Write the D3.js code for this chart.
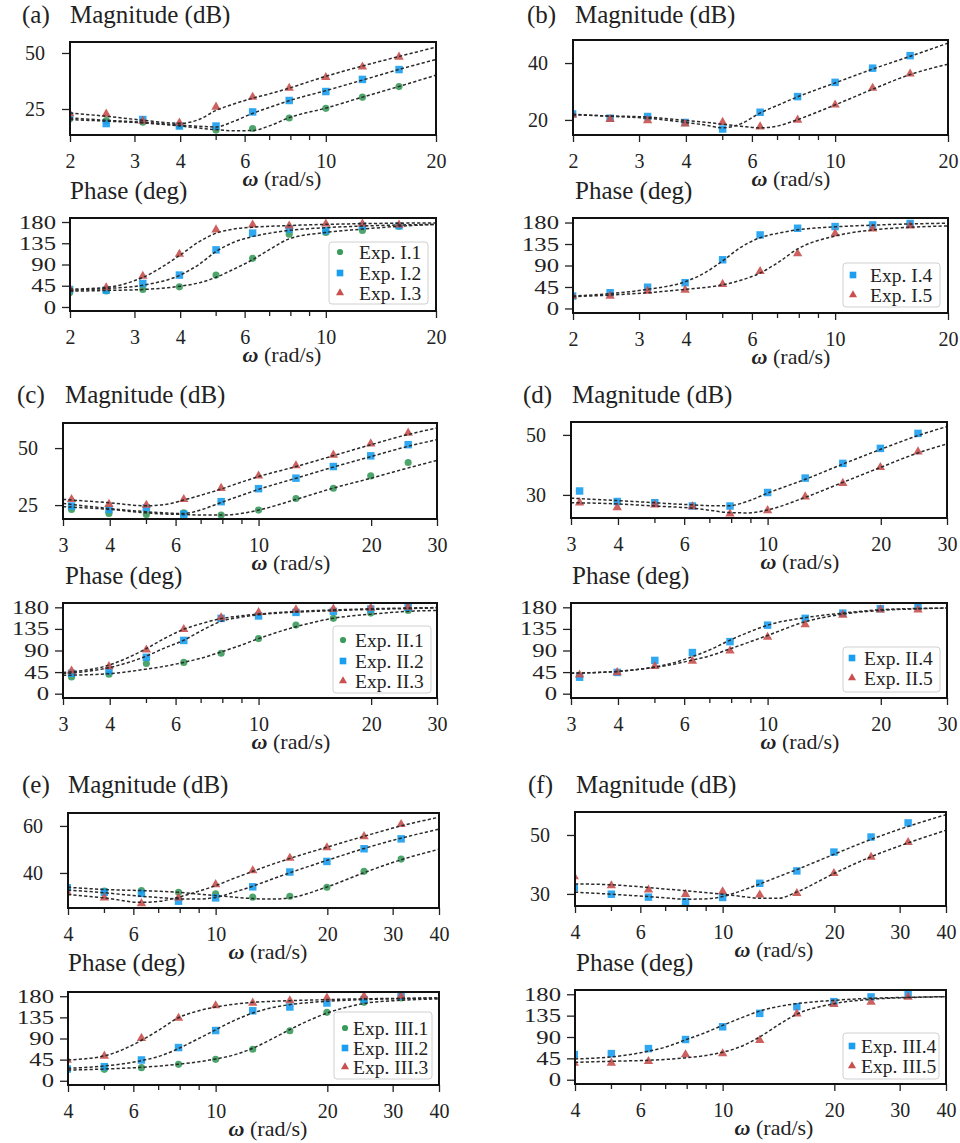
<!DOCTYPE html>
<html><head><meta charset="utf-8">
<script src="https://cdn.jsdelivr.net/npm/d3@7"></script>
<style>
body{margin:0;background:#fff}
svg{display:block}
</style>
</head><body>
<svg id="c" width="960" height="1143"></svg>
<script>
// ---------------- DATA ----------------
const freqAB = [1.995, 2.512, 3.162, 3.981, 5.012, 6.310, 7.943, 10.0, 12.59, 15.85];
const freqCD = [3.162, 3.981, 5.012, 6.310, 7.943, 10.0, 12.59, 15.85, 19.95, 25.12];
const freqEF = [3.981, 5.012, 6.310, 7.943, 10.0, 12.59, 15.85, 19.95, 25.12, 31.62];
const fitFreqAB = [2, 2.5, 3.16, 4, 4.5, 5, 5.6, 6.3, 7.1, 7.9, 10, 12.6, 15.8, 20];
const fitFreqCD = [3, 4, 5, 5.6, 6.3, 7.1, 7.9, 8.9, 10, 12.6, 15.8, 20, 25, 30];
const fitFreqEF = [4, 5, 6.3, 7.1, 7.9, 8.9, 10, 11.2, 12.6, 14.1, 15.8, 20, 25, 31.6, 40];

const xTicksAB = [2, 3, 4, 6, 10, 20];
const xTicksCD = [3, 4, 6, 10, 20, 30];
const xTicksEF = [4, 6, 10, 20, 30, 40];
const xMinorTicks = [5, 7, 8, 9];
const phaseTicks = [0, 45, 90, 135, 180];
const magTicksA = [25, 50], magTicksB = [20, 40], magTicksC = [25, 50];
const magTicksD = [30, 50], magTicksE = [40, 60], magTicksF = [30, 50];

const panelLetters = ["(a)", "(b)", "(c)", "(d)", "(e)", "(f)"];
const legendNames = {
  a: ["Exp. I.1", "Exp. I.2", "Exp. I.3"],
  b: ["Exp. I.4", "Exp. I.5"],
  c: ["Exp. II.1", "Exp. II.2", "Exp. II.3"],
  d: ["Exp. II.4", "Exp. II.5"],
  e: ["Exp. III.1", "Exp. III.2", "Exp. III.3"],
  f: ["Exp. III.4", "Exp. III.5"]
};

// (a) measured
const magI1 = [20.5, 19.8, 19.1, 17.6, 15.6, 16.3, 21.0, 25.3, 30.3, 35.0];
const magI2 = [21.8, 18.5, 20.3, 17.4, 17.4, 23.7, 28.8, 32.8, 38.2, 42.6];
const magI3 = [23.0, 22.8, 19.6, 18.8, 25.9, 30.3, 34.3, 39.1, 43.8, 48.2];
const phI1 = [29.9, 34, 37, 42.7, 67.6, 103, 154, 158, 162, 171];
const phI2 = [37, 35.6, 49.8, 67.6, 121, 156.5, 165, 162, 172, 172];
const phI3 = [39, 41, 65.5, 112, 163.6, 174, 172, 176, 176, 174];
// (a) fits
const magFitI1 = [20.3, 19.6, 18.8, 17.4, 16.5, 15.8, 15.3, 15.4, 17.8, 21.0, 25.4, 30.3, 35.0, 40.1];
const magFitI2 = [21.0, 20.0, 19.1, 17.8, 17.3, 17.0, 19.5, 23.0, 26.0, 28.6, 33.2, 37.9, 42.6, 47.1];
const magFitI3 = [23.2, 21.8, 20.0, 18.6, 20.3, 24.3, 27.2, 29.8, 32.0, 34.2, 39.6, 44.2, 48.4, 52.6];
const phFitI1 = [33.4, 35, 37, 44, 51, 62.6, 80, 100, 124, 143.7, 158, 165, 171, 175];
const phFitI2 = [35.6, 39, 46, 67.6, 90, 117, 137, 149, 157, 162, 168, 171.5, 173.6, 175];
const phFitI3 = [37.7, 41.3, 62.6, 110, 138, 156, 165, 169, 171, 172.5, 175, 176.5, 177.5, 178];

// (b) measured
const magI4 = [22.1, 20.6, 21.2, 19.1, 16.8, 22.7, 28.2, 33.2, 38.2, 42.6];
const magI5 = [21.8, 20.2, 19.8, 18.6, 19.2, 17.6, 20.0, 25.3, 31.2, 36.2];
const phI4 = [26, 33, 44.5, 54, 102, 154, 168, 171.5, 175, 178];
const phI5 = [26, 26, 36.7, 38.8, 50.8, 77.7, 115, 156.7, 167, 173];
// (b) fits
const magFitI4 = [22.0, 21.3, 20.6, 19.1, 18.2, 17.2, 18.6, 22.4, 25.4, 28.0, 33.0, 37.9, 42.3, 47.0];
const magFitI5 = [21.8, 21.4, 21.0, 19.8, 19.2, 18.5, 17.8, 17.2, 18.0, 20.0, 25.3, 30.8, 35.9, 39.6];
const phFitI4 = [26, 31, 40, 56.5, 75, 99, 128, 148, 158, 164.5, 171, 174.5, 177, 178.6];
const phFitI5 = [24.7, 28, 33, 40, 44, 49.4, 59, 74, 98, 123.5, 151.8, 164.5, 170, 173];

// (c) measured
const magII1 = [23.1, 21.3, 20.9, 21.6, 20.6, 22.8, 27.9, 32.4, 37.8, 43.7];
const magII2 = [24.6, 23.1, 23.8, 21.0, 26.5, 32.2, 36.8, 41.9, 46.6, 51.5];
const magII3 = [27.5, 25.4, 25.0, 27.5, 32.4, 37.8, 42.3, 47.0, 51.9, 56.6];
const phII1 = [34.7, 40.4, 63, 65.2, 84.3, 114.8, 143, 157, 168, 173.6];
const phII2 = [42.5, 47.5, 75.8, 111, 157, 162, 169.4, 171.5, 176.5, 180];
const phII3 = [47.5, 56.7, 91.4, 134, 158.7, 169.4, 175, 176.5, 178.6, 180.7];
// (c) fits
const magFitII1 = [24.3, 23.1, 21.6, 21.1, 20.9, 20.6, 20.6, 21.2, 22.8, 27.5, 32.4, 36.8, 41.2, 44.6];
const magFitII2 = [25.7, 23.5, 22.1, 21.6, 21.3, 23.2, 26.0, 29.0, 31.9, 36.8, 41.6, 46.3, 50.7, 53.7];
const magFitII3 = [27.5, 26.0, 24.7, 25.2, 27.2, 29.6, 31.9, 34.8, 37.5, 41.9, 46.6, 51.5, 55.9, 58.8];
const phFitII1 = [38.3, 41.8, 51, 57, 65.2, 75, 86.5, 100, 114.8, 139.6, 157, 165.8, 171.5, 173.6];
const phFitII2 = [41.8, 54.6, 78, 95, 111, 133, 150, 159, 164.4, 170, 173, 175.7, 177.5, 178.6];
const phFitII3 = [43.9, 60.2, 93.5, 115, 134, 147, 156, 162, 166, 171.5, 174.5, 177, 178.5, 179.5];

// (d) measured
const magII4 = [31.3, 27.8, 27.4, 26.3, 26.3, 30.8, 35.6, 40.5, 45.5, 50.5];
const magII5 = [27.4, 25.8, 26.7, 26.1, 23.7, 24.8, 29.4, 33.9, 39.2, 44.4];
const phII4 = [34.3, 44.3, 69.3, 85.7, 108.5, 142.8, 157, 167.8, 177, 182];
const phII5 = [39.3, 44.3, 57, 67.8, 89.3, 117.8, 144, 164, 175, 175];
// (d) fits
const magFitII4 = [28.9, 28.1, 27.4, 27.0, 26.7, 26.4, 26.4, 28.0, 30.6, 35.2, 40.2, 45.2, 49.7, 52.8];
const magFitII5 = [27.4, 27.0, 26.3, 26.0, 25.6, 24.8, 24.1, 24.0, 25.0, 29.2, 34.1, 39.2, 43.9, 47.0];
const phFitII4 = [42.8, 46.4, 55.7, 64, 77, 93, 110.7, 128, 142.8, 158.5, 167.8, 175, 177.5, 178.5];
const phFitII5 = [42.8, 46.4, 55, 61, 70, 80, 92.8, 107, 121.4, 150, 165.6, 173.5, 177, 178.5];

// (e) measured
const magIII1 = [33.7, 32.3, 32.5, 31.8, 31.1, 29.7, 30.1, 33.9, 40.7, 45.9];
const magIII2 = [33.7, 31.8, 31.3, 28.0, 29.4, 34.1, 40.4, 44.9, 50.3, 54.5];
const magIII3 = [31.8, 29.4, 27.0, 29.4, 35.1, 41.0, 46.3, 50.8, 55.5, 60.7];
const phIII1 = [24.3, 24.3, 27.9, 35, 45.7, 67, 106.4, 145.7, 167, 176.4];
const phIII2 = [25, 30, 44.3, 70.7, 107, 149, 157, 165.6, 172.8, 180];
const phIII3 = [44.3, 52.8, 90.7, 133.5, 160, 165.6, 170.6, 176.4, 180, 180];
// (e) fits
const magFitIII1 = [33.9, 33.0, 32.5, 32.2, 31.8, 31.1, 30.4, 29.7, 29.1, 28.9, 29.4, 34.1, 40.0, 45.6, 50.1];
const magFitIII2 = [32.7, 31.6, 30.1, 29.5, 29.0, 28.9, 29.6, 31.8, 34.4, 37.2, 40.0, 45.4, 50.3, 54.8, 58.6];
const magFitIII3 = [30.8, 29.4, 27.5, 28.0, 29.6, 32.0, 34.6, 37.7, 40.7, 43.5, 46.1, 51.0, 55.5, 60.0, 63.7];
const phFitIII1 = [22.8, 25, 28.6, 31.5, 35, 40, 46.4, 55, 69.3, 88, 108.5, 144.3, 164.3, 171.4, 174.3];
const phFitIII2 = [26.4, 31.4, 42.8, 53, 67.8, 88, 108.5, 128, 144.3, 155, 162, 169.2, 172.8, 174.8, 176.4];
const phFitIII3 = [44.3, 52.8, 85.7, 110, 133.5, 148, 157, 163, 167, 169, 170.6, 172.8, 174.5, 175.5, 176.4];

// (f) measured
const magIII4 = [32.2, 29.9, 28.9, 27.4, 28.8, 33.6, 37.8, 44.2, 49.3, 54.1];
const magIII5 = [35.9, 32.8, 31.4, 29.9, 30.8, 29.7, 30.2, 37.0, 42.5, 47.5];
const phIII4 = [53, 55, 65.6, 84.7, 111.5, 139.8, 153.9, 164.5, 174.4, 180];
const phIII5 = [35.3, 35.3, 38.8, 53, 55, 83.3, 139, 158.8, 163.8, 174.4];
// (f) fits
const magFitIII4 = [30.6, 29.9, 29.1, 28.6, 28.2, 28.3, 29.1, 31.0, 33.4, 35.8, 38.2, 43.5, 48.4, 52.9, 56.9];
const magFitIII5 = [33.4, 33.1, 32.2, 31.6, 31.1, 30.5, 29.9, 29.2, 28.5, 28.5, 30.6, 37.0, 42.5, 47.3, 51.6];
const phFitIII4 = [43.8, 48, 60, 70, 83.3, 98, 114.4, 130, 144.7, 154, 160.2, 167.3, 171.5, 173.5, 175];
const phFitIII5 = [36.7, 38.8, 41, 43, 45.9, 50.5, 57.9, 70, 90.4, 115, 137.6, 160.2, 169.4, 173, 175];

// ---------------- STYLE / LAYOUT ----------------
const FONT = '"Liberation Serif"';
const TXT = "#222";
const COLORS = {circle: "#3a9b5c", square: "#1a9ff0", triangle: "#c8504e"};
const FONT_TICK = 20, FONT_TITLE = 25, FONT_XLABEL = 22, FONT_LEG = 19.5;
const PHASE_STRETCH = 1.3;

const panels = [
  {id: "a", letter: panelLetters[0], freq: freqAB, fitFreq: fitFreqAB, xDom: [2, 20], xTicks: xTicksAB, magTicks: magTicksA,
   magBox: [70, 436, 42, 135], magDom: [13.4, 54.9], phBox: [70, 436, 218, 311], phDom: [-8.5, 188.5],
   title: [22, 70, 23], phLab: [70, 199], xlC: 282,
   leg: {box: [329, 428, 242, 304], ys: [252, 273, 293], mx: 340, tx: 359},
   series: [
     {shape: "circle", mag: magI1, ph: phI1, magFit: magFitI1, phFit: phFitI1},
     {shape: "square", mag: magI2, ph: phI2, magFit: magFitI2, phFit: phFitI2},
     {shape: "triangle", mag: magI3, ph: phI3, magFit: magFitI3, phFit: phFitI3}]},
  {id: "b", letter: panelLetters[1], freq: freqAB, fitFreq: fitFreqAB, xDom: [2, 20], xTicks: xTicksAB, magTicks: magTicksB,
   magBox: [573, 948, 40, 135], magDom: [14.7, 48.1], phBox: [573, 948, 218, 313], phDom: [-9.5, 189.5],
   title: [527, 575, 23], phLab: [575, 199], xlC: 791,
   leg: {box: [843, 940, 263, 307], ys: [275, 295], mx: 853, tx: 870},
   series: [
     {shape: "square", mag: magI4, ph: phI4, magFit: magFitI4, phFit: phFitI4},
     {shape: "triangle", mag: magI5, ph: phI5, magFit: magFitI5, phFit: phFitI5}]},
  {id: "c", letter: panelLetters[2], freq: freqCD, fitFreq: fitFreqCD, xDom: [3, 30], xTicks: xTicksCD, magTicks: magTicksC,
   magBox: [63, 437, 423, 519], magDom: [18.9, 61], phBox: [63, 437, 603, 698], phDom: [-9, 189],
   title: [17, 65, 403], phLab: [65, 584], xlC: 291,
   leg: {box: [333, 431, 626, 693], ys: [640, 661, 681], mx: 343, tx: 355},
   series: [
     {shape: "circle", mag: magII1, ph: phII1, magFit: magFitII1, phFit: phFitII1},
     {shape: "square", mag: magII2, ph: phII2, magFit: magFitII2, phFit: phFitII2},
     {shape: "triangle", mag: magII3, ph: phII3, magFit: magFitII3, phFit: phFitII3}]},
  {id: "d", letter: panelLetters[3], freq: freqCD, fitFreq: fitFreqCD, xDom: [3, 30], xTicks: xTicksCD, magTicks: magTicksD,
   magBox: [571, 947, 422, 518], magDom: [22.3, 54.3], phBox: [571, 947, 603, 698], phDom: [-9, 189],
   title: [523, 572, 403], phLab: [572, 584], xlC: 800,
   leg: {box: [843, 940, 647, 692], ys: [658, 678], mx: 852, tx: 864},
   series: [
     {shape: "square", mag: magII4, ph: phII4, magFit: magFitII4, phFit: phFitII4},
     {shape: "triangle", mag: magII5, ph: phII5, magFit: magFitII5, phFit: phFitII5}]},
  {id: "e", letter: panelLetters[4], freq: freqEF, fitFreq: fitFreqEF, xDom: [4, 40], xTicks: xTicksEF, magTicks: magTicksE,
   magBox: [68, 439, 813, 908], magDom: [25.1, 65.5], phBox: [68, 439, 992, 1085], phDom: [-9, 189],
   title: [22, 68, 793], phLab: [68, 971], xlC: 268,
   leg: {box: [334, 432, 1012, 1079], ys: [1028, 1048, 1067], mx: 345, tx: 353},
   series: [
     {shape: "circle", mag: magIII1, ph: phIII1, magFit: magFitIII1, phFit: phFitIII1},
     {shape: "square", mag: magIII2, ph: phIII2, magFit: magFitIII2, phFit: phFitIII2},
     {shape: "triangle", mag: magIII3, ph: phIII3, magFit: magFitIII3, phFit: phFitIII3}]},
  {id: "f", letter: panelLetters[5], freq: freqEF, fitFreq: fitFreqEF, xDom: [4, 40], xTicks: xTicksEF, magTicks: magTicksF,
   magBox: [575, 946, 812, 906], magDom: [25.9, 57.8], phBox: [575, 946, 990, 1084], phDom: [-9, 189],
   title: [528, 576, 793], phLab: [576, 971], xlC: 774,
   leg: {box: [843, 939, 1033, 1079], ys: [1046, 1066], mx: 852, tx: 861},
   series: [
     {shape: "square", mag: magIII4, ph: phIII4, magFit: magFitIII4, phFit: phFitIII4},
     {shape: "triangle", mag: magIII5, ph: phIII5, magFit: magFitIII5, phFit: phFitIII5}]}
];

// ---------------- DRAW ----------------
const svg = d3.select("#c").attr("font-family", FONT);
let clipId = 0;

function symbolPath(shape, big) {
  const t = shape === "circle" ? d3.symbolCircle : shape === "square" ? d3.symbolSquare : d3.symbolTriangle;
  const s = shape === "circle" ? (big ? 40 : 30) : shape === "square" ? (big ? 56 : 44) : (big ? 38 : 28);
  return d3.symbol().type(t).size(s)();
}

function addText(x, y, txt, size) {
  return svg.append("text").attr("x", x).attr("y", y).attr("font-family", FONT)
    .attr("font-size", size).attr("fill", TXT).text(txt);
}

function drawAxes(p, box, yDom, yTicks, key, fitKey, isPhase) {
  const [x0, x1, y0, y1] = box;
  const x = d3.scaleLog().domain(p.xDom).range([x0, x1]);
  const y = d3.scaleLinear().domain(yDom).range([y1, y0]);
  const g = svg.append("g");
  const cid = "clip" + (clipId++);
  svg.append("clipPath").attr("id", cid).append("rect")
    .attr("x", x0).attr("y", y0).attr("width", x1 - x0).attr("height", y1 - y0);

  // x axis
  const allX = p.xTicks.concat(xMinorTicks).sort((a, b) => a - b);
  const xa = d3.axisBottom(x).tickValues(allX).tickSize(7).tickPadding(11.5)
    .tickFormat(d => p.xTicks.includes(d) ? String(d) : "");
  const gx = g.append("g").attr("transform", `translate(0,${y1})`).call(xa)
    .attr("font-family", FONT).attr("font-size", FONT_TICK);
  gx.select(".domain").remove();
  gx.selectAll(".tick line").attr("stroke", "#222").attr("stroke-width", 1.3)
    .attr("y2", d => p.xTicks.includes(d) ? 7 : 5);
  gx.selectAll(".tick text").attr("fill", TXT);

  // y axis
  const ya = d3.axisLeft(y).tickValues(yTicks).tickSize(8).tickPadding(isPhase ? 6 : 17)
    .tickFormat(d3.format("d"));
  const gy = g.append("g").attr("transform", `translate(${x0},0)`).call(ya)
    .attr("font-family", FONT).attr("font-size", isPhase ? 19 : FONT_TICK);
  gy.select(".domain").remove();
  gy.selectAll(".tick line").attr("stroke", "#222").attr("stroke-width", 1.3);
  gy.selectAll(".tick text").attr("fill", TXT);
  if (isPhase) {
    gy.selectAll(".tick text").attr("transform", function () {
      const ax = +this.getAttribute("x");
      return `translate(${ax},0) scale(${PHASE_STRETCH},1) translate(${-ax},0)`;
    });
  }

  // markers
  const plot = g.append("g").attr("clip-path", `url(#${cid})`);
  p.series.forEach(s => {
    plot.selectAll(null).data(s[key]).enter().append("path")
      .attr("d", symbolPath(s.shape, true))
      .attr("transform", (d, i) => `translate(${x(p.freq[i])},${y(d)})`)
      .attr("fill", COLORS[s.shape]).attr("fill-opacity", 0.9);
  });
  // fits
  const line = d3.line().x((d, i) => x(p.fitFreq[i])).y(d => y(d)).curve(d3.curveMonotoneX);
  p.series.forEach(s => {
    plot.append("path").attr("d", line(s[fitKey])).attr("fill", "none")
      .attr("stroke", "#2a2a2a").attr("stroke-width", 1.5).attr("stroke-dasharray", "3.2,2.2");
  });

  // frame
  g.append("rect").attr("x", x0).attr("y", y0).attr("width", x1 - x0).attr("height", y1 - y0)
    .attr("fill", "none").attr("stroke", "#111").attr("stroke-width", 2);

  // x label
  const xl = g.append("text").attr("x", p.xlC).attr("y", y1 + 51).attr("text-anchor", "middle")
    .attr("font-family", FONT).attr("font-size", FONT_XLABEL).attr("fill", TXT);
  xl.append("tspan").attr("font-style", "italic").attr("font-weight", "bold").text("ω");
  xl.append("tspan").text(" (rad/s)");
}

panels.forEach(p => {
  addText(p.title[0], p.title[2], p.letter, FONT_TITLE);
  addText(p.title[1], p.title[2], "Magnitude (dB)", FONT_TITLE);
  addText(p.phLab[0], p.phLab[1], "Phase (deg)", FONT_TITLE);

  drawAxes(p, p.magBox, p.magDom, p.magTicks, "mag", "magFit", false);
  drawAxes(p, p.phBox, p.phDom, phaseTicks, "ph", "phFit", true);

  // legend
  const L = p.leg;
  svg.append("rect").attr("x", L.box[0]).attr("y", L.box[2]).attr("width", L.box[1] - L.box[0])
    .attr("height", L.box[3] - L.box[2]).attr("rx", 3)
    .attr("fill", "#fff").attr("fill-opacity", 0.85).attr("stroke", "#d0d0d0").attr("stroke-width", 1);
  p.series.forEach((s, i) => {
    svg.append("path").attr("d", symbolPath(s.shape, false))
      .attr("transform", `translate(${L.mx},${L.ys[i]})`).attr("fill", COLORS[s.shape]);
    addText(L.tx, L.ys[i], legendNames[p.id][i], FONT_LEG).attr("dy", "0.35em");
  });
});
</script>
</body></html>
